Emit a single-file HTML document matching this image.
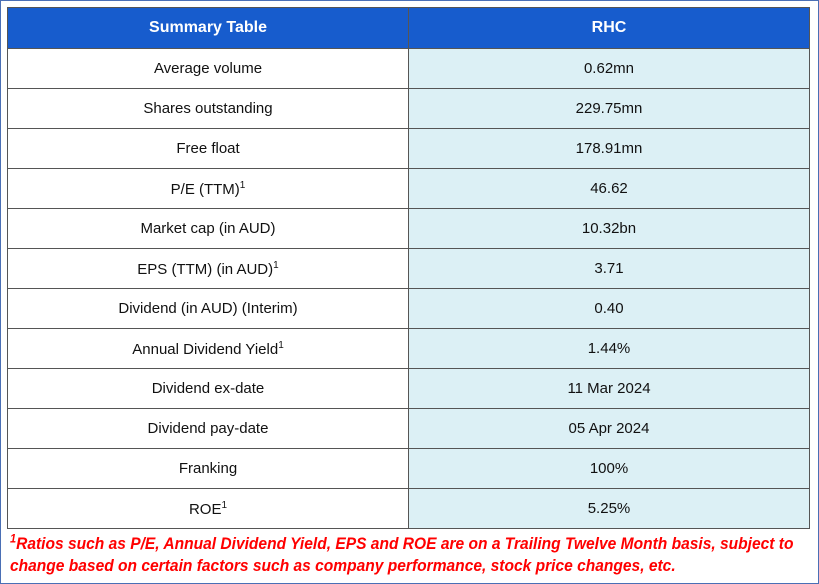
<!DOCTYPE html>
<html><head><style>
body{margin:0;width:819px;height:584px;background:#fff;position:relative;overflow:hidden;font-family:"Liberation Sans",sans-serif;}
.frame{position:absolute;left:0;top:0;width:817px;height:582px;border:1px solid #4a6fb5;}
table{position:absolute;left:7px;top:7px;border-collapse:collapse;width:803px;}
td,th{border:1px solid #555;height:39px;text-align:center;font-size:15px;color:#111;padding:0;}
th{background:#175ccd;color:#fff;font-weight:bold;height:40px;font-size:16px;}
td:first-child{width:400px;}
td:nth-child(2){background:#dcf0f5;}
sup{font-size:10px;}
.fn{position:absolute;left:10px;color:#f00;font-weight:bold;font-style:italic;font-size:17px;line-height:20px;white-space:nowrap;transform-origin:0 0;transform:scaleX(0.915);}
</style></head><body>
<div class="frame"></div>
<table>
<tr><th>Summary Table</th><th>RHC</th></tr>
<tr><td>Average volume</td><td>0.62mn</td></tr>
<tr><td>Shares outstanding</td><td>229.75mn</td></tr>
<tr><td>Free float</td><td>178.91mn</td></tr>
<tr><td>P/E (TTM)<sup>1</sup></td><td>46.62</td></tr>
<tr><td>Market cap (in AUD)</td><td>10.32bn</td></tr>
<tr><td>EPS (TTM) (in AUD)<sup>1</sup></td><td>3.71</td></tr>
<tr><td>Dividend (in AUD) (Interim)</td><td>0.40</td></tr>
<tr><td>Annual Dividend Yield<sup>1</sup></td><td>1.44%</td></tr>
<tr><td>Dividend ex-date</td><td>11 Mar 2024</td></tr>
<tr><td>Dividend pay-date</td><td>05 Apr 2024</td></tr>
<tr><td>Franking</td><td>100%</td></tr>
<tr><td>ROE<sup>1</sup></td><td>5.25%</td></tr>
</table>
<div class="fn" style="top:534px"><sup style="font-size:12px;line-height:0">1</sup>Ratios such as P/E, Annual Dividend Yield, EPS and ROE are on a Trailing Twelve Month basis, subject to</div>
<div class="fn" style="top:556px">change based on certain factors such as company performance, stock price changes, etc.</div>
</body></html>
